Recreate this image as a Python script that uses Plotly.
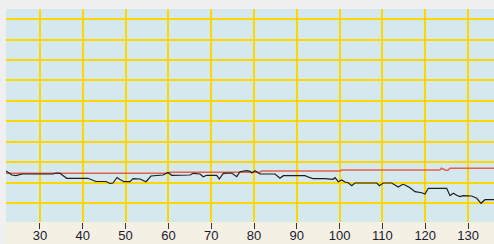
import plotly.graph_objects as go

# Black series (x, y)
black_x = [22.06, 23.46, 24.39, 25.33, 25.79, 33.04, 33.74, 34.67, 35.37, 36.24, 41.21,
           43.08, 45.42, 46.36, 47.06, 47.99, 48.69, 49.63, 51.03, 51.73, 53.36, 54.77,
           55.93, 58.74, 59.91, 60.77, 65.05, 65.82, 67.38, 68.15, 68.95, 71.29, 71.89,
           72.83, 74.79, 75.96, 76.73, 78.29, 79.07, 79.46, 80.23, 81.00, 81.40, 84.91,
           86.07, 86.85, 91.92, 93.08, 93.86, 96.59, 98.46, 98.93, 99.70, 100.49, 101.26,
           102.04, 102.83, 103.60, 108.67, 109.28, 110.21, 112.17, 113.71, 114.74, 115.28,
           116.45, 117.62, 119.18, 119.95, 120.72, 125.02, 125.79, 126.57, 127.36, 128.13,
           128.90, 130.86, 132.03, 133.04, 133.97, 136.07]
black_y = [25.82, 23.87, 23.53, 24.21, 24.36, 24.36, 24.84, 24.70, 23.62, 22.26, 22.26,
           20.69, 20.69, 19.72, 19.96, 22.65, 21.67, 20.60, 20.60, 22.06, 21.91, 20.60,
           23.38, 23.87, 25.09, 23.72, 23.87, 24.70, 24.36, 23.04, 23.72, 23.72, 21.91,
           24.70, 24.84, 23.04, 25.48, 25.97, 25.67, 24.84, 25.97, 24.84, 24.36, 24.36,
           22.26, 23.53, 23.53, 22.55, 22.06, 22.06, 21.77, 22.55, 20.60, 21.43, 20.45,
           20.11, 18.64, 19.96, 19.96, 18.64, 19.96, 19.96, 18.01, 19.33, 18.98,
           17.67, 15.71, 15.22, 14.59, 17.37, 17.37, 13.76, 14.93, 13.96, 13.37,
           13.76, 13.61, 12.49, 10.05, 11.81, 11.81]

# Red series (x, y)
red_x = [22.06, 59.91, 60.40, 81.40, 81.80, 100.10, 100.49, 123.46, 123.80, 124.80, 125.30, 125.80, 136.07]
red_y = [24.70, 24.70, 25.19, 25.19, 25.82, 25.82, 26.31, 26.31, 27.15, 26.17, 26.17, 27.15, 27.15]

x_ticks = [30, 40, 50, 60, 70, 80, 90, 100, 110, 120, 130]
y_grid = [10, 20, 30, 40, 50, 60, 70, 80, 90, 100]

fig = go.Figure()
fig.add_trace(go.Scatter(x=red_x, y=red_y, mode="lines",
                         line=dict(color="#E4604E", width=1.5), hoverinfo="skip"))
fig.add_trace(go.Scatter(x=black_x, y=black_y, mode="lines",
                         line=dict(color="#1E1E1E", width=1.2), hoverinfo="skip"))

fig.add_shape(type="rect", xref="paper", yref="paper", x0=0, x1=1,
              y0=-22 / 213, y1=0, fillcolor="#F4F0E4", line=dict(width=0), layer="below")

fig.update_layout(
    width=494, height=244,
    margin=dict(l=6, r=0, t=9, b=22),
    paper_bgcolor="#F0F0F0",
    plot_bgcolor="#D4E8EE",
    showlegend=False,
    xaxis=dict(range=[22.06, 136.07], tickvals=x_ticks, ticktext=[str(v) for v in x_ticks],
               showgrid=True, gridcolor="#FFD700", gridwidth=2, zeroline=False,
               ticks="outside", ticklen=6, tickcolor="#333333", tickwidth=1,
               ticklabelstandoff=-5,
               tickfont=dict(family="Liberation Sans, Arial", size=13, color="#1A1A30"),
               showline=False, fixedrange=True, automargin=False),
    yaxis=dict(range=[0.92, 104.9], tickvals=y_grid, showticklabels=False,
               showgrid=True, gridcolor="#FFD700", gridwidth=2, zeroline=False,
               ticks="", showline=False, fixedrange=True, automargin=False),
)

fig.write_html("out.html", config={"displayModeBar": False},
               post_script="document.body.style.margin='0px';document.body.style.overflow='hidden';")
